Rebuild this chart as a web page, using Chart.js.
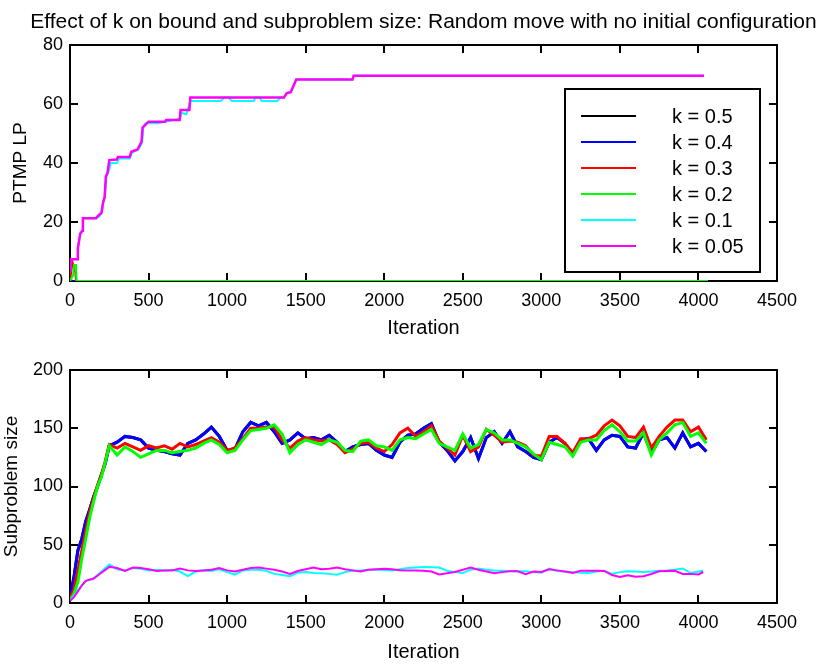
<!DOCTYPE html>
<html>
<head>
<meta charset="utf-8">
<title>Effect of k on bound and subproblem size</title>
<script src="https://cdn.jsdelivr.net/npm/chart.js@4.4.0/dist/chart.umd.min.js"></script>
<style>
    body { margin: 0; background: #fff; }
    #wrap { position: relative; width: 825px; height: 666px; }
    .panel { position: absolute; left: 0; width: 825px; }
</style>
</head>
<body>
<div id="wrap">
    <div class="panel" style="top:0;height:345px"><canvas id="boundChart"></canvas></div>
    <div class="panel" style="top:345px;height:321px"><canvas id="sizeChart"></canvas></div>
</div>
<script>
// ============================================================================
// Effect of k on bound and subproblem size (two MATLAB-style panels)
// ============================================================================

const chartTitle = 'Effect of k on bound and subproblem size: Random move with no initial configuration';
const kLabels = ['k = 0.5', 'k = 0.4', 'k = 0.3', 'k = 0.2', 'k = 0.1', 'k = 0.05'];
const kColors = ['#000000', '#0000ff', '#ff0000', '#00ff00', '#00ffff', '#ff00ff'];

const iterTicks = [0, 500, 1000, 1500, 2000, 2500, 3000, 3500, 4000, 4500];
const boundTicks = [0, 20, 40, 60, 80];
const sizeTicks = [0, 50, 100, 150, 200];

// --- top panel: PTMP LP bound (corner points of the step curves) ---
const boundIterK050 = [0, 4060];
const boundK050 = [0, 0];
const boundIterK040 = [0, 5, 10, 4060];
const boundK040 = [0, 1, 0, 0];
const boundIterK030 = [0, 10, 17, 34, 38, 4060];
const boundK030 = [0, 4, 6.2, 3, 0, 0];
const boundIterK020 = [0, 20, 26, 38, 42, 4060];
const boundK020 = [0, 2, 5.4, 5.4, 0, 0];
const boundIterK010 = [0, 8, 45, 50, 58, 65, 78, 82, 166, 190,
    205, 212, 222, 232, 245, 260, 300, 310, 380, 395,
    435, 460, 465, 480, 560, 606, 700, 708, 740, 766,
    960, 980, 1010, 1030, 1170, 1180, 1205, 1220, 1320, 1340,
    1362, 1380, 1405, 1440, 1798, 1805, 4035];
const boundK010 = [3, 7.4, 7.4, 11, 13.7, 16, 17, 21.3, 21.3, 22,
    24, 27, 28.4, 35.3, 37, 40, 40, 41.5, 41.5, 43.5,
    44.6, 47, 52, 53.5, 53.5, 54, 55, 57, 56.5, 61,
    61, 62.2, 62.2, 61, 61, 62.2, 62.2, 61, 61, 62.2,
    62.2, 63.7, 64, 68.3, 68.3, 69.6, 69.6];
const boundIterK005 = [0, 8, 45, 50, 58, 65, 78, 82, 166, 185,
    200, 209, 220, 228, 240, 250, 298, 305, 380, 390,
    430, 455, 462, 500, 606, 612, 698, 704, 760, 766,
    1362, 1380, 1405, 1440, 1798, 1805, 4035];
const boundK005 = [3, 7.4, 7.4, 11, 13.7, 16, 17, 21.3, 21.3, 22.5,
    23, 26.2, 28.4, 35.3, 37, 41, 41.2, 42, 42, 43.8,
    44.6, 47.2, 52, 54, 54, 54.6, 54.6, 58, 58, 62.2,
    62.2, 63.7, 64, 68.3, 68.3, 69.6, 69.6];

// --- bottom panel: subproblem size ---
const sizeIterBig = [0, 25, 50, 75, 100, 125, 150, 175, 200, 225,
    250, 300, 350, 400, 450, 500, 550, 600, 650, 700,
    750, 800, 850, 900, 950, 1000, 1050, 1100, 1150, 1200,
    1250, 1300, 1350, 1400, 1450, 1500, 1550, 1600, 1650, 1700,
    1750, 1800, 1850, 1900, 1950, 2000, 2050, 2100, 2150, 2200,
    2250, 2300, 2350, 2400, 2450, 2500, 2550, 2600, 2650, 2700,
    2750, 2800, 2850, 2900, 2950, 3000, 3050, 3100, 3150, 3200,
    3250, 3300, 3350, 3400, 3450, 3500, 3550, 3600, 3650, 3700,
    3750, 3800, 3850, 3900, 3950, 4000, 4050];
const sizeK040 = [5, 22, 45, 55, 70, 80, 91, 100, 110, 120,
    135, 138, 143, 142, 140, 133, 131, 130, 128, 127,
    137, 140, 145, 151, 143, 131, 132, 147, 155, 152,
    155, 147, 137, 140, 146, 141, 142, 140, 144, 138,
    130, 134, 136, 137, 131, 127, 125, 138, 144, 145,
    150, 154, 138, 131, 122, 130, 142, 124, 142, 147,
    137, 147, 134, 130, 125, 123, 138, 142, 137, 127,
    140, 141, 131, 140, 144, 143, 134, 133, 146, 129,
    140, 142, 133, 146, 134, 137, 130];
const sizeK030 = [3, 12, 28, 45, 62, 78, 90, 101, 110, 122,
    136, 133, 137, 134, 131, 135, 133, 135, 132, 137,
    134, 136, 139, 142, 138, 131, 133, 141, 150, 150,
    151, 151, 140, 133, 139, 142, 140, 139, 140, 136,
    129, 132, 137, 138, 133, 130, 136, 146, 150, 143,
    147, 152, 139, 133, 127, 144, 130, 134, 149, 144,
    138, 139, 138, 135, 127, 126, 143, 143, 137, 129,
    141, 141, 144, 152, 157, 152, 143, 142, 151, 133,
    143, 151, 157, 157, 147, 151, 140];
const sizeK020 = [2, 8, 18, 38, 55, 73, 87, 100, 108, 121,
    135, 127, 134, 130, 125, 128, 131, 131, 129, 130,
    131, 133, 137, 140, 136, 129, 131, 140, 148, 149,
    150, 153, 145, 129, 136, 140, 138, 136, 140, 138,
    131, 130, 139, 140, 135, 134, 131, 140, 142, 141,
    145, 149, 137, 134, 131, 145, 133, 136, 149, 146,
    140, 140, 137, 134, 128, 123, 138, 136, 134, 126,
    138, 140, 140, 148, 153, 147, 139, 139, 146, 127,
    140, 146, 153, 155, 143, 146, 137];
// k = 0.5 is completely covered by the k = 0.4 run in the picture
const sizeK050 = sizeK040;

const sizeIterSmall = [0, 25, 50, 75, 100, 150, 200, 250, 300, 350,
    400, 450, 500, 550, 600, 650, 700, 750, 800, 850,
    900, 950, 1000, 1050, 1100, 1150, 1200, 1250, 1300, 1350,
    1400, 1450, 1500, 1550, 1600, 1650, 1700, 1750, 1800, 1850,
    1900, 1950, 2000, 2050, 2100, 2150, 2200, 2250, 2300, 2350,
    2400, 2450, 2500, 2550, 2600, 2650, 2700, 2750, 2800, 2850,
    2900, 2950, 3000, 3050, 3100, 3150, 3200, 3250, 3300, 3350,
    3400, 3450, 3500, 3550, 3600, 3650, 3700, 3750, 3800, 3850,
    3900, 3950, 4000, 4030];
const sizeK010 = [2, 6, 11, 15, 19, 21, 27, 33, 29, 28,
    30, 29.5, 28, 28.5, 28, 28.6, 27, 23, 27, 28,
    27.5, 29, 26.5, 24.4, 28, 28.6, 28.5, 27.7, 25, 24,
    23, 26, 26.6, 25.7, 25.5, 25, 24.3, 26.5, 27.7, 28,
    28.6, 28.6, 28.3, 28, 29, 30, 30.5, 30.9, 30.7, 30.5,
    27.7, 26.5, 25.7, 28.6, 29.5, 28.5, 28, 27.7, 27.5, 27.2,
    27.2, 26.5, 26, 29.5, 27.5, 27, 26.5, 26, 25.7, 27,
    27.7, 24.9, 26.5, 27.2, 27, 26.6, 27, 27.7, 28, 28.5,
    29.5, 25.7, 27, 27.7];
const sizeK005 = [2, 5, 10, 15, 19, 21, 26, 31, 30, 27.5,
    30.5, 30, 29, 27.4, 28, 28, 29.5, 28, 27.4, 28,
    28.5, 30, 28, 27, 28.5, 30, 30.5, 29.5, 28.6, 27,
    25, 27.5, 29, 30.5, 29, 29.5, 30.5, 29, 28, 27,
    28.6, 29, 29.5, 29, 28.2, 28, 27.8, 27.6, 27, 24.5,
    25.5, 26.6, 28.5, 30.5, 28.6, 27, 25.5, 26.5, 27.2, 27.2,
    24.8, 27, 26.6, 29, 28, 27, 25.7, 27.7, 27.7, 27.7,
    27.5, 24, 22.3, 23.7, 22.5, 23, 24.9, 27.2, 27.5, 27.7,
    25, 25, 24.5, 26.6];

const FONT = '"Liberation Sans", Arial, Helvetica, sans-serif';
Chart.defaults.font.family = FONT;
Chart.defaults.font.size = 18;
Chart.defaults.color = '#000';

// Helper: pair x and y arrays into {x, y} points
const pts = (xs, ys) => xs.map((x, i) => ({ x, y: ys[i] }));

// Build one line dataset; later k values are drawn on top (lower order)
function series(i, xs, ys, width) {
    return {
        label: kLabels[i],
        data: pts(xs, ys),
        borderColor: kColors[i],
        backgroundColor: kColors[i],
        borderWidth: width,
        pointRadius: 0,
        tension: 0,
        order: 5 - i
    };
}

// Box around the axes with inward ticks on all four sides
const matlabFrame = {
    id: 'matlabFrame',
    beforeDatasetsDraw(chart) {
        const { ctx, chartArea: a, scales } = chart;
        const len = 8;
        ctx.save();
        ctx.strokeStyle = '#000';
        ctx.lineWidth = 2;
        ctx.strokeRect(a.left, a.top, a.right - a.left, a.bottom - a.top);
        ctx.beginPath();
        scales.x.ticks.forEach(t => {
            const px = Math.round(scales.x.getPixelForValue(t.value));
            ctx.moveTo(px, a.bottom); ctx.lineTo(px, a.bottom - len);
            ctx.moveTo(px, a.top); ctx.lineTo(px, a.top + len);
        });
        scales.y.ticks.forEach(t => {
            const py = Math.round(scales.y.getPixelForValue(t.value));
            ctx.moveTo(a.left, py); ctx.lineTo(a.left + len, py);
            ctx.moveTo(a.right, py); ctx.lineTo(a.right - len, py);
        });
        ctx.stroke();
        ctx.restore();
    }
};

// Figure title centred over the axes box (as MATLAB does), not over the canvas
const axesTitle = {
    id: 'axesTitle',
    afterDraw(chart, args, opts) {
        const { ctx, chartArea: a } = chart;
        ctx.save();
        ctx.font = opts.size + 'px ' + FONT;
        ctx.fillStyle = '#000';
        ctx.textAlign = 'center';
        ctx.textBaseline = 'middle';
        ctx.fillText(opts.text, (a.left + a.right) / 2, opts.y);
        ctx.restore();
    }
};

// Legend box inside the top axes
const boxLegend = {
    id: 'boxLegend',
    afterDraw(chart) {
        const { ctx, chartArea: a } = chart;
        const x = a.right - 212, y = a.top + 44, w = 195, h = 183;
        ctx.save();
        ctx.fillStyle = '#fff';
        ctx.fillRect(x, y, w, h);
        ctx.strokeStyle = '#000';
        ctx.lineWidth = 2;
        ctx.strokeRect(x, y, w, h);
        ctx.font = '20px ' + FONT;
        ctx.textBaseline = 'middle';
        ctx.textAlign = 'left';
        chart.data.datasets.forEach((ds, i) => {
            const ry = y + 27 + i * 26;
            ctx.strokeStyle = ds.borderColor;
            ctx.lineWidth = 2;
            ctx.beginPath();
            ctx.moveTo(x + 16, ry);
            ctx.lineTo(x + 71, ry);
            ctx.stroke();
            ctx.fillStyle = '#000';
            ctx.fillText(ds.label, x + 107, ry + 1);
        });
        ctx.restore();
    }
};

function xScale(height, titlePad) {
    return {
        type: 'linear',
        min: iterTicks[0],
        max: iterTicks[iterTicks.length - 1],
        afterBuildTicks: s => { s.ticks = iterTicks.map(v => ({ value: v })); },
        ticks: { padding: 9, autoSkip: false, maxRotation: 0, callback: v => String(v) },
        grid: { display: false, drawTicks: false },
        border: { display: false },
        title: { display: true, text: 'Iteration', font: { size: 20 }, padding: titlePad },
        afterFit: s => { s.height = height; }
    };
}

function yScale(ticks, text, titlePad) {
    return {
        min: ticks[0],
        max: ticks[ticks.length - 1],
        afterBuildTicks: s => { s.ticks = ticks.map(v => ({ value: v })); },
        ticks: { padding: 7, callback: v => String(v) },
        grid: { display: false, drawTicks: false },
        border: { display: false },
        title: { display: true, text: text, font: { size: 19 }, padding: titlePad },
        afterFit: s => { s.width = 70; }
    };
}

const boundSets = [
    series(0, boundIterK050, boundK050, 2),
    series(1, boundIterK040, boundK040, 2),
    series(2, boundIterK030, boundK030, 2),
    series(3, boundIterK020, boundK020, 2),
    series(4, boundIterK010, boundK010, 2),
    series(5, boundIterK005, boundK005, 2.5)
];

new Chart(document.getElementById('boundChart'), {
    type: 'line',
    data: { datasets: boundSets },
    options: {
        responsive: true,
        maintainAspectRatio: false,
        animation: false,
        layout: { padding: { left: 0, right: 48, top: 45, bottom: 0 } },
        plugins: {
            legend: { display: false },
            tooltip: { enabled: false },
            axesTitle: { text: chartTitle, size: 21, y: 22 }
        },
        scales: {
            x: xScale(64, { top: 5, bottom: 5 }),
            y: yScale(boundTicks, 'PTMP LP', { top: 9, bottom: 0 })
        }
    },
    plugins: [matlabFrame, axesTitle, boxLegend]
});

new Chart(document.getElementById('sizeChart'), {
    type: 'line',
    data: {
        datasets: [
            series(0, sizeIterBig, sizeK050, 3),
            series(1, sizeIterBig, sizeK040, 3),
            series(2, sizeIterBig, sizeK030, 3),
            series(3, sizeIterBig, sizeK020, 3),
            series(4, sizeIterSmall, sizeK010, 2),
            series(5, sizeIterSmall, sizeK005, 2)
        ]
    },
    options: {
        responsive: true,
        maintainAspectRatio: false,
        animation: false,
        layout: { padding: { left: 0, right: 48, top: 25, bottom: 0 } },
        plugins: {
            legend: { display: false },
            tooltip: { enabled: false }
        },
        scales: {
            x: xScale(63, { top: 2, bottom: 2 }),
            y: yScale(sizeTicks, 'Subproblem size', { top: 0, bottom: 0 })
        }
    },
    plugins: [matlabFrame]
});
</script>
</body>
</html>
